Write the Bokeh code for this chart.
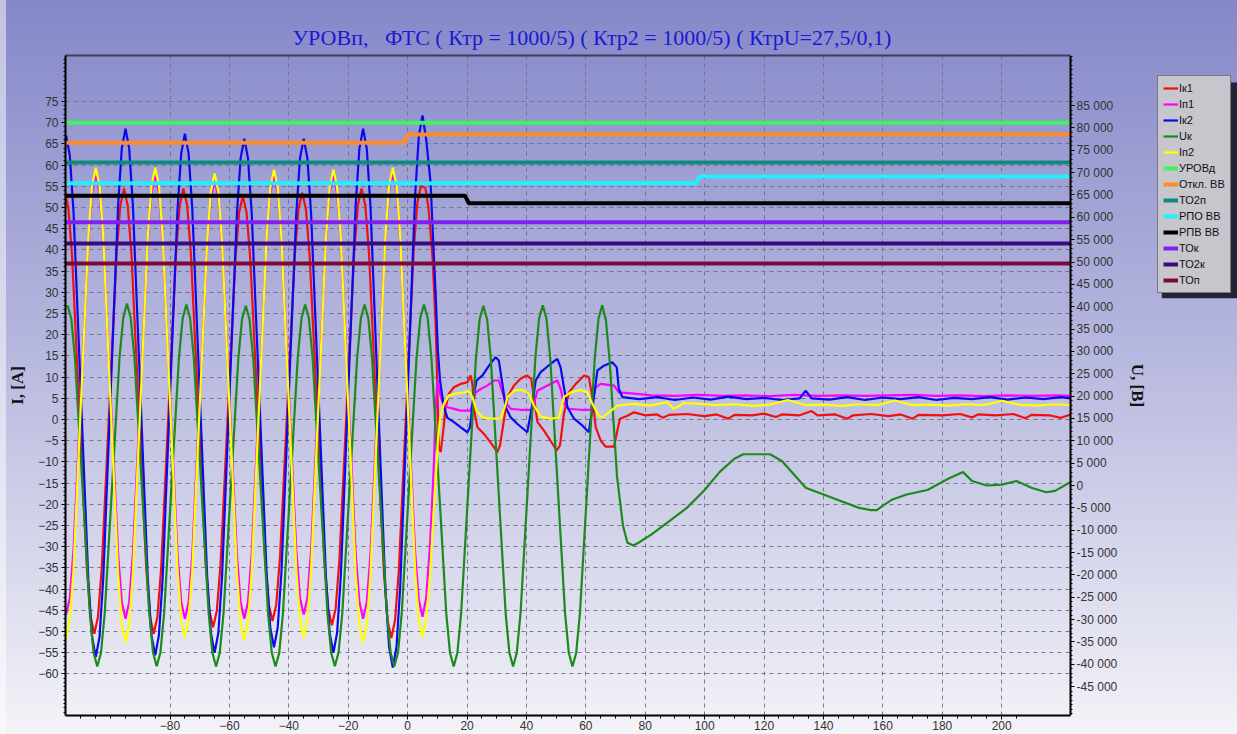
from bokeh.plotting import figure
from bokeh.models import Range1d, LinearAxis, FixedTicker, Legend, LegendItem, BoxAnnotation
from bokeh.embed import file_html
from bokeh.resources import INLINE

# ---------------- labels ----------------
TITLE = "УРОВп,\u00a0\u00a0 ФТС ( Ктр = 1000/5) ( Ктр2 = 1000/5) ( КтрU=27,5/0,1)"
X_TICKS = [-80, -60, -40, -20, 0, 20, 40, 60, 80, 100, 120, 140, 160, 180, 200]
I_TICKS = [-60, -55, -50, -45, -40, -35, -30, -25, -20, -15, -10, -5, 0,
           5, 10, 15, 20, 25, 30, 35, 40, 45, 50, 55, 60, 65, 70, 75]
U_TICKS = [-45000, -40000, -35000, -30000, -25000, -20000, -15000, -10000, -5000, 0,
           5000, 10000, 15000, 20000, 25000, 30000, 35000, 40000, 45000, 50000,
           55000, 60000, 65000, 70000, 75000, 80000, 85000]
U_LABELS = ["-45 000", "-40 000", "-35 000", "-30 000", "-25 000", "-20 000", "-15 000",
            "-10 000", "-5 000", "0", "5 000", "10 000", "15 000", "20 000", "25 000",
            "30 000", "35 000", "40 000", "45 000", "50 000", "55 000", "60 000",
            "65 000", "70 000", "75 000", "80 000", "85 000"]

# time window of the record, ms
T0, T1 = -115.2, 223.2

# ---------------- analog channels (time in ms) ----------------
# Iк1, red
t_ik1 = [-115.5, -114.25, -113, -110.5, -108, -106.75, -105.5, -104.25, -103, -100.5, -98, -96.75,
         -95.5, -94.25, -93, -90.5, -88, -86.75, -85.5, -84.25, -83, -80.5, -78, -76.75,
         -75.5, -74.25, -73, -70.5, -68, -66.75, -65.5, -64.25, -63, -60.5, -58, -56.75,
         -55.5, -54.25, -53, -50.5, -48, -46.75, -45.5, -44.25, -43, -40.5, -38, -36.75,
         -35.5, -34.25, -33, -30.5, -28, -26.75, -25.5, -24.25, -23, -20.5, -18, -16.75,
         -15.5, -14.25, -13, -10.5, -8, -6.75, -5.5, -4.25, -3, -0.5, 2, 3.25,
         4.5, 6, 7, 8.4, 9.4, 9.8, 10.2, 10.5, 11.1, 12.0, 12.8, 13.9, 15.6, 17.8, 20.1, 21.2,
         21.8, 22.6, 23.5, 25.7, 27.9, 30.2, 31.1, 32.4, 33.6, 35.8, 38.0, 40.1, 41.6, 42.5,
         43.7, 45.9, 48.1, 50.2, 51.3, 52.6, 54.3, 56.6, 59.4, 61.0, 62.2, 63.3, 65.0, 66.7,
         69.5, 70.6, 71.5, 74.0, 76.2,
         80, 84, 86, 88, 94, 100, 104, 108, 110, 116, 120, 124, 126, 132, 136, 138,
         144, 148, 150, 156, 162, 166, 170, 172, 180, 186, 190, 192, 198, 204, 208, 210,
         216, 220, 223.2]
ik1 = [54.0, 50.0, 38.7, 1.8, -35.2, -46.5, -50.5, -46.5, -35.1, 2.0, 39.1, 50.5,
       54.5, 50.5, 39.1, 2.0, -35.1, -46.5, -50.5, -46.5, -35.1, 2.0, 39.1, 50.5,
       54.5, 50.6, 39.3, 2.8, -33.8, -45.1, -49.0, -45.1, -34.1, 1.9, 37.8, 48.8,
       52.7, 48.9, 38.0, 2.6, -32.8, -43.7, -47.5, -43.7, -32.7, 3.0, 38.7, 49.7,
       53.5, 49.6, 38.6, 2.5, -33.6, -44.6, -48.5, -44.6, -33.4, 3.0, 39.4, 50.6,
       54.5, 50.5, 39.0, 1.5, -36.0, -47.5, -51.5, -47.4, -35.9, 1.9, 39.6, 51.1,
       55.2, 54.5, 50.0, 38.0, 22.6, 13.2, 1.4, -6.5, -7.7, -2.6, 2.9, 6.1, 7.6, 8.4, 8.8, 10.4,
       8.4, 1.3, -1.8, -3.4, -5.4, -7.7, -6.1, -0.2, 5.3, 8.0, 9.6, 10.4, 9.6, 5.3,
       -0.6, -2.6, -5.0, -7.3, -6.1, 1.3, 6.4, 8.4, 10.4, 10.0, 5.3, -1.8, -5.0, -6.4,
       -6.4, -2.6, 0.2, 0.9, 1.7,
       1.0, 1.2, 0.4, 1.1, 1.3, 0.8, 1.2, 0.2, 1.1, 1.0, 1.4, 0.6, 1.2, 1.0, 2.0, 1.0,
       1.2, 0.2, 1.0, 1.3, 0.8, 1.2, 0.2, 1.1, 1.0, 1.3, 0.5, 1.2, 1.0, 1.3, 0.3, 1.1,
       1.0, 0.4, 1.2]

# Iп1, magenta
t_ip1 = [-115, -113.75, -112.5, -110, -107.5, -106.25, -105, -103.75, -102.5, -100, -97.5, -96.25,
         -95, -93.75, -92.5, -90, -87.5, -86.25, -85, -83.75, -82.5, -80, -77.5, -76.25,
         -75, -73.75, -72.5, -70, -67.5, -66.25, -65, -63.75, -62.5, -60, -57.5, -56.25,
         -55, -53.75, -52.5, -50, -47.5, -46.25, -45, -43.75, -42.5, -40, -37.5, -36.25,
         -35, -33.75, -32.5, -30, -27.5, -26.25, -25, -23.75, -22.5, -20, -17.5, -16.25,
         -15, -13.75, -12.5, -10, -7.5, -6.25, -5, -3.75, -2.5, 0, 2.5, 3.75,
         5, 6.25, 7.5, 8.75, 9.4, 10.0, 10.9, 11.7, 13.4, 15.6, 17.8, 21.2, 22.9, 24.6, 26.8,
         29.1, 30.7, 31.9, 33.0, 34.7, 38.0, 42.0, 43.7, 45.9, 48.1, 50.4, 51.5, 52.6, 54.3,
         58.2, 61.6, 63.3, 65.0, 69.5, 71.1, 76.2,
         82, 90, 98, 106, 114, 122, 130, 138, 146, 154, 162, 170, 178, 186, 194, 202, 210, 218, 223.2]
ip1 = [-46.0, -42.1, -30.8, 5.8, 42.3, 53.6, 57.5, 53.5, 42.2, 5.3, -31.7, -43.0,
       -47.0, -43.0, -31.7, 5.3, 42.2, 53.5, 57.5, 53.5, 42.2, 5.3, -31.7, -43.0,
       -47.0, -43.1, -31.8, 4.8, 41.3, 52.6, 56.5, 52.6, 41.3, 4.8, -31.8, -43.1,
       -47.0, -43.0, -31.7, 5.3, 42.2, 53.5, 57.5, 53.6, 42.3, 5.8, -30.8, -42.1,
       -46.0, -42.1, -30.8, 5.8, 42.3, 53.6, 57.5, 53.5, 42.2, 5.3, -31.7, -43.0,
       -47.0, -43.0, -31.6, 5.5, 42.6, 54.0, 58.0, 54.0, 42.7, 5.8, -31.2, -42.5,
       -46.5, -42.0, -30.0, -12.0, 2.0, 9.2, 6.1, 4.1, 2.9, 2.5, 2.1, 2.1, 6.4, 7.2, 8.0,
       9.2, 9.2, 6.4, 4.1, 2.5, 2.3, 2.3, 6.8, 7.6, 8.4, 9.2, 7.2, 3.7, 2.5,
       2.3, 2.3, 7.6, 8.4, 8.0, 6.4, 6.1,
       5.7, 5.6, 5.8, 5.6, 5.7, 5.5, 5.8, 5.6, 5.7, 5.6, 5.7, 5.8, 5.6, 5.7, 5.5, 5.7, 5.6, 5.7, 5.6]

# Iк2, blue
t_ik2 = [-115, -113.75, -112.5, -110, -107.5, -106.25, -105, -103.75, -102.5, -100, -97.5, -96.25,
         -95, -93.75, -92.5, -90, -87.5, -86.25, -85, -83.75, -82.5, -80, -77.5, -76.25,
         -75, -73.75, -72.5, -70, -67.5, -66.25, -65, -63.75, -62.5, -60, -57.5, -56.25,
         -55, -53.75, -52.5, -50, -47.5, -46.25, -45, -43.75, -42.5, -40, -37.5, -36.25,
         -35, -33.75, -32.5, -30, -27.5, -26.25, -25, -23.75, -22.5, -20, -17.5, -16.25,
         -15, -13.75, -12.5, -10, -7.5, -6.25, -5, -3.75, -2.5, 0, 2.5, 3.75,
         5, 6.25, 7.7, 8.6, 9.4, 10.2, 10.9, 12.2, 13.4, 15.6, 17.8, 20.1, 21.0, 22.1, 23.2,
         25.2, 27.4, 29.6, 30.7, 31.9, 33.0, 34.7, 36.9, 40.3, 42.0, 43.1, 44.8, 48.1, 50.4,
         51.5, 52.6, 53.8, 56.0, 58.8, 61.0, 62.7, 63.9, 66.1, 68.9, 70.4, 71.1, 72.3,
         78, 84, 90, 96, 102, 108, 114, 120, 126, 132, 134, 136, 142, 148, 154, 160, 166,
         172, 178, 184, 190, 196, 202, 208, 214, 220, 223.2]
ik2 = [67.0, 62.3, 49.0, 5.5, -38.0, -51.3, -56.0, -51.3, -37.7, 6.3, 50.3, 63.9,
       68.6, 63.9, 50.4, 6.5, -37.4, -50.9, -55.6, -50.9, -37.6, 5.9, 49.4, 62.7,
       67.4, 62.7, 49.5, 6.2, -37.1, -50.3, -55.0, -50.4, -37.2, 5.6, 48.4, 61.6,
       66.2, 61.6, 48.6, 6.3, -36.1, -49.1, -53.7, -49.1, -36.1, 6.3, 48.6, 61.6,
       66.2, 61.6, 48.4, 5.6, -37.2, -50.4, -55.0, -50.3, -36.9, 6.8, 50.5, 63.9,
       68.6, 63.8, 50.0, 5.1, -39.9, -53.7, -58.5, -53.6, -39.4, 6.6, 52.6, 66.8,
       71.7, 66.0, 56.0, 42.0, 30.0, 16.0, 9.2, 2.9, 0.4, -0.6, -1.8, -3.0, -1.8, 5.3, 9.2,
       10.4, 12.7, 14.7, 13.9, 8.4, 2.9, 0.5, -1.0, -3.0, 3.7, 9.2, 11.2, 13.1, 14.3,
       12.3, 7.6, 2.9, 0.2, -1.4, -3.0, 5.3, 11.6, 12.7, 13.5, 12.3, 7.2, 5.3,
       4.8, 5.3, 4.6, 5.2, 4.7, 5.4, 4.8, 5.1, 4.6, 5.0, 6.8, 5.0, 4.7, 5.3, 4.6, 5.2, 4.8,
       5.3, 4.6, 5.1, 4.8, 5.3, 4.7, 5.2, 4.8, 5.3, 5.0]

# Uк, green (volts, right axis)
t_uk = [-114.5, -113.25, -112, -109.5, -107, -105.75, -104.5, -103.25, -102, -99.5, -97, -95.75,
        -94.5, -93.25, -92, -89.5, -87, -85.75, -84.5, -83.25, -82, -79.5, -77, -75.75,
        -74.5, -73.25, -72, -69.5, -67, -65.75, -64.5, -63.25, -62, -59.5, -57, -55.75,
        -54.5, -53.25, -52, -49.5, -47, -45.75, -44.5, -43.25, -42, -39.5, -37, -35.75,
        -34.5, -33.25, -32, -29.5, -27, -25.75, -24.5, -23.25, -22, -19.5, -17, -15.75,
        -14.5, -13.25, -12, -9.5, -7, -5.75, -4.5, -3.25, -2, 0.5, 3, 4.25,
        5.5, 6.75, 8, 10.5, 13, 14.25, 15.5, 16.75, 18, 20.5, 23, 24.25,
        25.5, 26.75, 28, 30.5, 33, 34.25, 35.5, 36.75, 38, 40.5, 43, 44.25,
        45.5, 46.75, 48, 50.5, 53, 54.25, 55.5, 56.75, 58, 60.5, 63, 64.25,
        65.5, 66.75, 68, 70.5, 72.5, 74, 76, 78, 82, 88, 94, 100, 105, 110, 113, 122, 126,
        130, 134, 140, 146, 152, 156, 158, 160, 163, 168, 175, 182, 187, 190, 195, 200,
        205, 210, 215, 218, 223.2]
uk = [40300, 37300, 28500, 0, -28600, -37400, -40500, -37400, -28600, 0, 28700, 37500,
      40700, 37500, 28700, 100, -28500, -37300, -40400, -37400, -28600, 0, 28600, 37400,
      40500, 37400, 28600, 0, -28600, -37400, -40500, -37400, -28600, -100, 28500, 37300,
      40200, 37200, 28400, 0, -28600, -37400, -40500, -37500, -28700, 0, 28600, 37400,
      40500, 37400, 28600, 0, -28600, -37400, -40400, -37300, -28500, 0, 28600, 37400,
      40500, 37400, 28600, 100, -28500, -37300, -40500, -37400, -28600, 0, 28600, 37400,
      40500, 37400, 28600, 0, -28600, -37400, -40500, -37400, -28600, 0, 28500, 37300,
      40200, 37200, 28400, 0, -28600, -37400, -40500, -37400, -28600, 0, 28600, 37400,
      40300, 37300, 28500, 0, -28600, -37400, -40500, -37400, -28600, 0, 28600, 37300,
      40300, 37000, 28000, 2000, -9000, -12800, -13400, -12700, -11000, -8000, -5000, -1000,
      3000, 6000, 7000, 7000, 5500, 2500, -500, -2000, -3500, -5000, -5500, -5500, -4500,
      -3200, -2000, -1000, 1500, 3000, 1000, 0, 200, 1000, -500, -1500, -1200, 800]

# Iп2, yellow
t_ip2 = list(t_ip1[:72]) + [5, 6.25, 7.5, 8.5, 9.4, 10.2, 10.9, 12.2, 13.9, 16.2, 19.0, 20.6,
                            21.8, 23.2, 25.2, 27.9, 31.3, 32.7, 33.6, 35.8, 38.6, 40.8, 42.5,
                            44.8, 48.1, 50.9, 52.6, 54.9, 58.2, 60.5, 62.2, 64.4, 65.6, 67.8,
                            70.6, 76.2, 81.8, 87.4, 89.7, 93.0, 98.7,
                            104, 110, 116, 122, 128, 134, 140, 146, 152, 158, 164, 170, 176,
                            182, 188, 194, 200, 206, 212, 218, 223.2]
ip2 = [-51.5, -47.3, -35.3, 4.0, 43.2, 55.2, 59.4, 55.1, 43.0, 3.4, -36.2, -48.3,
       -52.6, -48.3, -36.2, 3.4, 43.0, 55.1, 59.4, 55.2, 43.2, 4.0, -35.2, -47.2,
       -51.4, -47.2, -35.4, 3.3, 42.0, 53.8, 58.0, 53.8, 41.9, 3.0, -35.9, -47.8,
       -52.0, -47.8, -35.8, 3.5, 42.7, 54.7, 58.9, 54.7, 42.7, 3.8, -35.2, -47.2,
       -51.4, -47.2, -35.2, 3.8, 42.8, 54.8, 59.0, 54.8, 42.7, 3.2, -36.3, -48.4,
       -52.6, -48.3, -36.2, 3.4, 43.0, 55.1, 59.4, 55.2, 43.2, 4.0, -35.2, -47.2,
       -51.4, -47.0, -37.0, -25.0, -14.4, -5.0, 0.2, 3.7, 5.7, 6.1, 6.4, 6.7,
       5.3, 2.1, 0.5, 0.2, 0.2, 2.9, 5.3, 6.8, 7.0, 6.1, 3.3,
       0.7, 0.2, 0.4, 5.3, 6.4, 7.0, 6.4, 3.7, 0.9, 0.5, 1.7,
       3.3, 3.7, 3.3, 4.1, 2.5, 3.9, 3.7,
       3.4, 3.6, 3.2, 3.5, 4.6, 3.4, 3.5, 3.2, 3.6, 3.4, 4.5, 3.4, 3.5,
       3.3, 3.6, 3.4, 4.4, 3.5, 3.3, 3.6, 3.4]

# ---------------- discrete channels (levels on the current axis) ----------------
t_urovd = [T0, T1]
urovd = [70.0, 70.0]
t_otkl = [T0, -1.2, 0.0, T1]
otkl = [65.3, 65.3, 67.2, 67.2]
t_to2p = [T0, T1]
to2p = [60.6, 60.6]
t_rpo = [T0, 97.0, 98.2, T1]
rpo = [55.7, 55.7, 57.3, 57.3]
t_rpv = [T0, 19.3, 20.6, T1]
rpv = [52.8, 52.8, 51.0, 51.0]
t_tok = [T0, T1]
tok = [46.5, 46.5]
t_to2k = [T0, T1]
to2k = [41.5, 41.5]
t_top = [T0, T1]
top_ = [36.8, 36.8]

# ---------------- figure ----------------
# the frame runs to the right edge of the page; the record window ends at T1 where the
# voltage axis is pinned, and the legend sits in the strip to its right
p = figure(width=1237, height=734, output_backend="svg", toolbar_location=None,
           x_range=Range1d(T0, 279.4), y_range=Range1d(-69.8, 85.85),
           min_border_left=65, min_border_right=0, min_border_top=55, min_border_bottom=19)
p.extra_y_ranges = {"u": Range1d(-51450, 96200)}
p.styles = {"background": ("linear-gradient(90deg, rgba(255,255,255,0.5) 0px, "
                           "rgba(255,255,255,0.5) 6px, rgba(255,255,255,0) 6px), "
                           "linear-gradient(180deg, #8587c9 0%, #b9badf 50%, #f3f3f8 100%)")}
p.background_fill_alpha = 0
p.border_fill_alpha = 0
p.outline_line_color = None

p.title.text = TITLE
p.title.text_font = "Liberation Serif"
p.title.text_font_size = "22px"
p.title.text_font_style = "normal"
p.title.text_color = "#1a1ad0"
p.title.align = "left"
p.title.offset = 227
p.title.standoff = 12

# bottom axis
xa = p.xaxis[0]
xa.ticker = FixedTicker(ticks=X_TICKS, minor_ticks=list(range(-110, 210, 5)))
xa.bounds = (T0, T1)
xa.axis_line_color = "#000000"
xa.axis_line_width = 2
xa.major_tick_out = 4
xa.major_tick_in = 0
xa.minor_tick_out = 3
xa.minor_tick_in = 0
xa.major_label_standoff = 1
xa.major_label_text_font = "Liberation Sans"
xa.major_label_text_font_size = "12px"
xa.major_label_text_color = "#333333"

# top border line of the record window
ta = LinearAxis(ticker=FixedTicker(ticks=[]), bounds=(T0, T1))
ta.axis_line_color = "#3c3c5c"
ta.axis_line_width = 2
ta.major_tick_line_color = None
ta.minor_tick_line_color = None
p.add_layout(ta, "above")

# left axis
ya = p.yaxis[0]
ya.ticker = FixedTicker(ticks=I_TICKS, minor_ticks=list(range(-70, 86, 1)))
ya.axis_line_color = "#000000"
ya.axis_line_width = 2
ya.major_tick_out = 4
ya.major_tick_in = 0
ya.minor_tick_out = 2
ya.minor_tick_in = 0
ya.major_label_standoff = 3
ya.major_label_text_font = "Liberation Sans"
ya.major_label_text_font_size = "12px"
ya.major_label_text_color = "#333333"
ya.axis_label = "I, [A]"
ya.axis_label_text_font = "Liberation Serif"
ya.axis_label_text_font_style = "bold"
ya.axis_label_text_font_size = "17px"
ya.axis_label_text_color = "#111111"
ya.axis_label_standoff = 8

# right axis (voltage), pinned at the end of the record
ra = LinearAxis(y_range_name="u", fixed_location=T1)
ra.ticker = FixedTicker(ticks=U_TICKS, minor_ticks=list(range(-51000, 96001, 1000)))
ra.major_label_overrides = dict(zip(U_TICKS, U_LABELS))
ra.axis_line_color = "#000000"
ra.axis_line_width = 2
ra.major_tick_out = 4
ra.major_tick_in = 0
ra.minor_tick_out = 2
ra.minor_tick_in = 0
ra.major_label_standoff = 2
ra.major_label_text_font = "Liberation Sans"
ra.major_label_text_font_size = "12px"
ra.major_label_text_color = "#333333"
ra.axis_label = "U, [B]"
ra.axis_label_text_font = "Liberation Serif"
ra.axis_label_text_font_style = "bold"
ra.axis_label_text_font_size = "17px"
ra.axis_label_text_color = "#111111"
ra.axis_label_standoff = 8
p.add_layout(ra, "right")

# grid
p.xgrid.ticker = FixedTicker(ticks=X_TICKS)
p.ygrid.ticker = FixedTicker(ticks=I_TICKS)
p.ygrid.cross_bounds = (T0, T1)
for g in (p.xgrid, p.ygrid):
    g.grid_line_color = "#6e6e84"
    g.grid_line_dash = "4 4"
    g.grid_line_width = 1
    g.grid_line_alpha = 0.9

# series
W = 2.2
r_ik1 = p.line(t_ik1, ik1, color="#f01010", line_width=W)
r_ip1 = p.line(t_ip1, ip1, color="#ff00ff", line_width=W)
r_ik2 = p.line(t_ik2, ik2, color="#0a0af0", line_width=W)
r_uk = p.line(t_uk, uk, color="#1c8a1c", line_width=W, y_range_name="u")
r_ip2 = p.line(t_ip2, ip2, color="#ffff00", line_width=W)

D = 4
r_urovd = p.line(t_urovd, urovd, color="#3cf560", line_width=D)
r_otkl = p.line(t_otkl, otkl, color="#ff8a2a", line_width=D)
r_to2p = p.line(t_to2p, to2p, color="#108a80", line_width=D)
r_rpo = p.line(t_rpo, rpo, color="#20f0ff", line_width=D)
r_rpv = p.line(t_rpv, rpv, color="#000000", line_width=D)
r_tok = p.line(t_tok, tok, color="#8020f0", line_width=D)
r_to2k = p.line(t_to2k, to2k, color="#3a0a80", line_width=D)
r_top = p.line(t_top, top_, color="#7a0a3a", line_width=D)

# legend box with a drop shadow
shadow = BoxAnnotation(left=253.9, right=280.0, top=79.5, bottom=28.6,
                       fill_color="#1c1c2c", fill_alpha=0.95, line_alpha=0)
p.add_layout(shadow)

names = ["Iк1", "Iп1", "Iк2", "Uк", "Iп2", "УРОВд", "Откл. ВВ", "ТО2п", "РПО ВВ", "РПВ ВВ",
         "ТОк", "ТО2к", "ТОп"]
rends = [r_ik1, r_ip1, r_ik2, r_uk, r_ip2, r_urovd, r_otkl, r_to2p, r_rpo, r_rpv,
         r_tok, r_to2k, r_top]
legend = Legend(items=[LegendItem(label=n, renderers=[r]) for n, r in zip(names, rends)],
                location=(1092, 422))
legend.background_fill_color = "#c6c6cc"
legend.background_fill_alpha = 1
legend.border_line_color = "#2a2a3a"
legend.border_line_width = 1
legend.label_text_font = "Liberation Sans"
legend.label_text_font_size = "11px"
legend.label_text_color = "#111111"
legend.glyph_width = 15
legend.glyph_height = 14
legend.label_height = 14
legend.label_standoff = 1
legend.spacing = 2
legend.padding = 5
legend.margin = 0
p.add_layout(legend)

open("out.html", "w").write(file_html(p, INLINE))
